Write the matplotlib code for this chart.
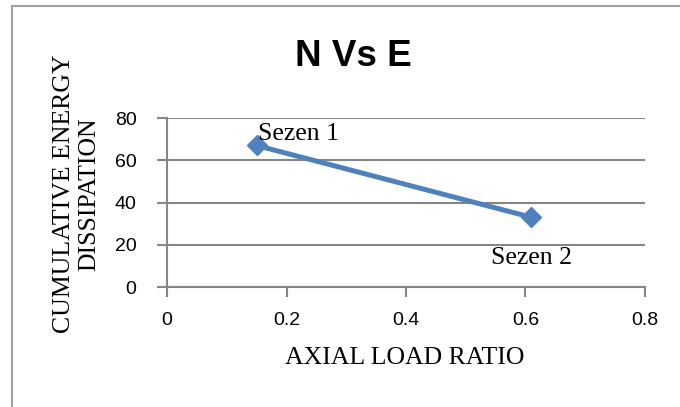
import matplotlib
matplotlib.use("Agg")
import matplotlib.pyplot as plt
from matplotlib.lines import Line2D

# data
axial_load_ratio = [0.15, 0.61]
energy_dissipation = [67, 33]
point_labels = ["Sezen 1", "Sezen 2"]
x_ticks = [0, 0.2, 0.4, 0.6, 0.8]
y_ticks = [0, 20, 40, 60, 80]

BLUE = "#4F81BD"
GRAY = "#868686"
SERIF = "Liberation Serif"
SANS = "Liberation Sans"

fig = plt.figure(figsize=(6.8, 4.07), dpi=100)
ax = fig.add_axes([0.2456, 0.2948, 0.7029, 0.4152])

ax.plot(axial_load_ratio, energy_dissipation, color=BLUE, lw=3.6,
        marker="D", ms=10.5, mfc=BLUE, mec=BLUE, zorder=3, clip_on=False)

ax.set_xlim(0, 0.8)
ax.set_ylim(0, 80)
ax.set_xticks(x_ticks)
ax.set_yticks(y_ticks)
ax.set_xticklabels([f"{t:g}" for t in x_ticks], family=SANS, fontsize=14)
ax.set_yticklabels([str(t) for t in y_ticks], family=SANS, fontsize=14)
ax.tick_params(axis="x", direction="out", length=7, width=1.5, color=GRAY, pad=11)
ax.tick_params(axis="y", direction="out", length=7, width=1.5, color=GRAY, pad=15)
ax.grid(axis="y", color=GRAY, lw=1.5)
ax.set_axisbelow(True)
for s in ("top", "right"):
    ax.spines[s].set_visible(False)
for s in ("left", "bottom"):
    ax.spines[s].set_color(GRAY)
    ax.spines[s].set_linewidth(1.5)

# point labels
ax.annotate(point_labels[0], (axial_load_ratio[0], energy_dissipation[0]),
            xytext=(1, 8), textcoords="offset points", ha="left", va="center",
            family=SERIF, fontsize=18.5)
ax.annotate(point_labels[1], (axial_load_ratio[1], energy_dissipation[1]),
            xytext=(0, -29), textcoords="offset points", ha="center", va="center",
            family=SERIF, fontsize=18.5)

fig.text(0.519, 0.86, "N Vs E", ha="center", va="center",
         family=SANS, weight="bold", fontsize=26.5)
fig.text(0.595, 0.12, "AXIAL LOAD RATIO", ha="center", va="center",
         family=SERIF, fontsize=18.5)
fig.text(0.113, 0.523, "CUMULATIVE ENERGY\nDISSIPATION", ha="center", va="center",
         rotation=90, family=SERIF, fontsize=18.5, linespacing=1.2)

# chart area border (left and top edges visible)
fig.add_artist(Line2D([0.018, 0.018], [0, 0.985], color="#A0A0A0", lw=1.5))
fig.add_artist(Line2D([0.018, 1.0], [0.985, 0.985], color="#A0A0A0", lw=1.5))

fig.savefig("out.png", dpi=100)
